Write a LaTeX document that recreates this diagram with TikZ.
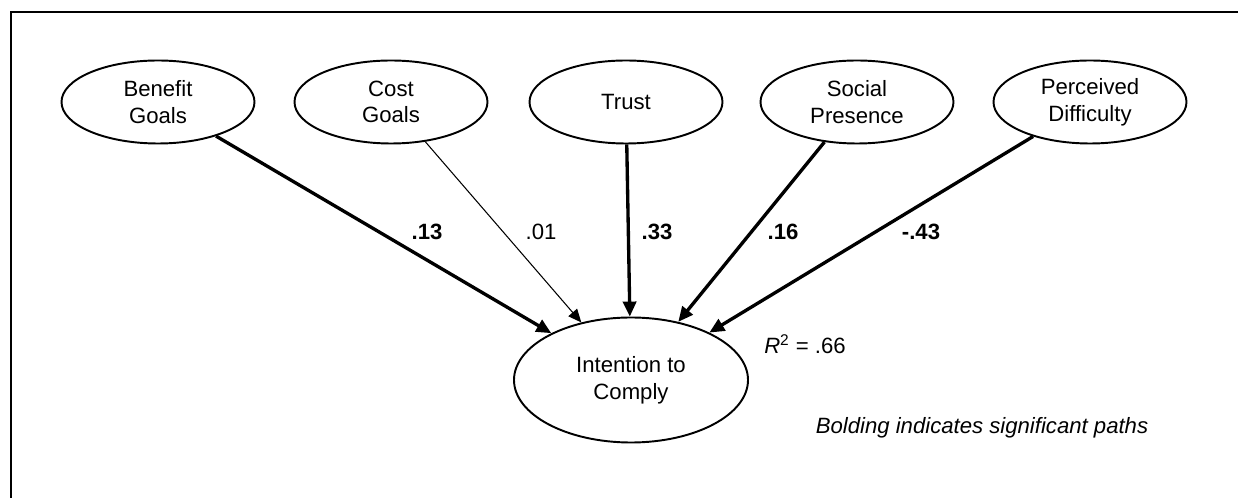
\documentclass[tikz,border=0pt]{standalone}
\usepackage{fontspec}
\setmainfont{Liberation Sans}
\usetikzlibrary{arrows.meta, shapes.geometric, positioning}

\tikzset{
  latent/.style={draw, ellipse, line width=1.1pt, minimum width=3.86cm, minimum height=1.66cm, inner sep=0pt, align=center, font=\fontsize{12.6}{15.2}\selectfont},
  sigpath/.style={line width=1.9pt, -{Triangle[length=8.5pt,width=7.5pt]}},
  nspath/.style={line width=0.6pt, -{Triangle[length=7.5pt,width=6.5pt]}},
  coef/.style={font=\fontsize{12.6}{15.2}\selectfont},
}

\begin{document}
\begin{tikzpicture}
\useasboundingbox (0,0) rectangle (24.76,9.96);
\clip (0,0) rectangle (24.76,9.96);
\draw[line width=1.1pt] (0.22,-1) rectangle (26,9.72);

\node[latent] (benefit) at (3.16,7.92) {Benefit\\Goals};
\node[latent] (cost) at (7.82,7.92) {Cost\\Goals};
\node[latent] (trust) at (12.52,7.92) {Trust};
\node[latent] (social) at (17.14,7.92) {Social\\Presence};
\node[latent] (difficulty) at (21.80,7.92) {Perceived\\Difficulty};

\node[latent, minimum width=4.68cm, minimum height=2.5cm] (intention) at (12.62,2.36) {Intention to\\Comply};

\draw[sigpath] (benefit) -- (intention);
\draw[nspath] (cost) -- (intention);
\draw[sigpath] (trust) -- (intention);
\draw[sigpath] (social) -- (intention);
\draw[sigpath] (difficulty) -- (intention);

\node[coef] (b13) at (8.54,5.32) {\textbf{.13}};
\node[coef] (c01) at (10.82,5.32) {.01};
\node[coef] (t33) at (13.14,5.32) {\textbf{.33}};
\node[coef] (s16) at (15.66,5.32) {\textbf{.16}};
\node[coef] (d43) at (18.42,5.32) {\textbf{-.43}};

\node[coef] (rsq) at (16.10,3.08) {\textit{R}\textsuperscript{2} = .66};
\node[coef] (note) at (19.64,1.40) {\textit{Bolding indicates significant paths}};
\end{tikzpicture}
\end{document}
